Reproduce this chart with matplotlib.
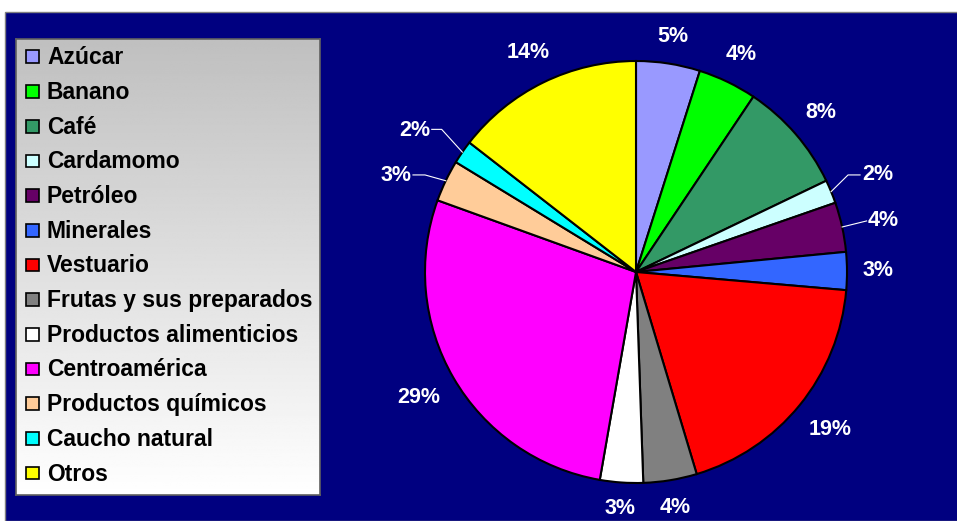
import numpy as np
import matplotlib.pyplot as plt
from matplotlib.patches import Rectangle

categories = ['Azúcar', 'Banano', 'Café', 'Cardamomo', 'Petróleo', 'Minerales',
              'Vestuario', 'Frutas y sus preparados', 'Productos alimenticios',
              'Centroamérica', 'Productos químicos', 'Caucho natural', 'Otros']
# slice shares (%)
shares = [4.9, 4.5, 8.5, 1.8, 3.8, 2.9, 19.0, 4.1, 3.3, 27.8, 3.2, 1.8, 14.5]
pct_labels = ['5%', '4%', '8%', '2%', '4%', '3%', '19%', '4%', '3%', '29%', '3%', '2%', '14%']
colors = ['#9999FF', '#00FF00', '#339966', '#CCFFFF', '#660066', '#3366FF',
          '#FF0000', '#808080', '#FFFFFF', '#FF00FF', '#FFCC99', '#00FFFF', '#FFFF00']

W, H = 957, 521
FONT = 'Liberation Sans'

fig = plt.figure(figsize=(W / 100, H / 100), dpi=100)
fig.patch.set_facecolor('white')
fig.add_artist(Rectangle((5 / W, 0), 1, (H - 12) / H, transform=fig.transFigure,
                         facecolor='#000080', edgecolor='#808080', lw=1, zorder=0))

# pie: centre (636, 272) px, radius 211 px
cx, cy, R = 636, 272, 211
ax = fig.add_axes([(cx - R) / W, (H - cy - R) / H, 2 * R / W, 2 * R / H])
wedges, _ = ax.pie(shares, colors=colors, startangle=90, counterclock=False,
                   radius=1, wedgeprops=dict(edgecolor='black', linewidth=1.5))
ax.set_xlim(-1, 1)
ax.set_ylim(-1, 1)
ax.axis('off')

# small slices get leader lines: index -> (elbow, line end, text anchor, ha)
callouts = {
    3: ((1.005, 0.46), (1.062, 0.46), (1.07, 0.46), 'left'),
    4: ((1.093, 0.242), (1.093, 0.242), (1.10, 0.245), 'left'),
    10: ((-1.0, 0.46), (-1.057, 0.46), (-1.065, 0.455), 'right'),
    11: ((-0.921, 0.676), (-0.968, 0.676), (-0.975, 0.672), 'right'),
}

lbl_kw = dict(color='white', fontsize=15.5, fontweight='bold', family=FONT, clip_on=False)
for i, w in enumerate(wedges):
    mid = np.deg2rad((w.theta1 + w.theta2) / 2)
    ex, ey = np.cos(mid), np.sin(mid)
    if i in callouts:
        elbow, end, tpos, ha = callouts[i]
        ax.plot([ex, elbow[0], end[0]], [ey, elbow[1], end[1]],
                color='white', lw=0.8, clip_on=False)
        ax.text(tpos[0], tpos[1], pct_labels[i], ha=ha, va='center', **lbl_kw)
    else:
        # label box kept at a fixed gap outside the rim
        half_w = 7.2 * len(pct_labels[i])
        half_h = 8
        d = (228 + abs(ex) * half_w + abs(ey) * half_h) / R
        ax.text(ex * d, ey * d, pct_labels[i], ha='center', va='center', **lbl_kw)

# legend box drawn by hand, gradient grey -> white
lx0, ly0, lx1, ly1 = 16, 39, 320, 495
lax = fig.add_axes([lx0 / W, (H - ly1) / H, (lx1 - lx0) / W, (ly1 - ly0) / H])
lw_, lh_ = lx1 - lx0, ly1 - ly0
grad = np.linspace(0.75, 1.0, 256).reshape(-1, 1)
lax.imshow(grad, cmap='gray', vmin=0, vmax=1, aspect='auto',
           extent=[0, lw_, lh_, 0], interpolation='bilinear')
lax.set_xlim(0, lw_)
lax.set_ylim(lh_, 0)
lax.set_xticks([])
lax.set_yticks([])
for s in lax.spines.values():
    s.set_color('#606060')
    s.set_linewidth(1.2)

row0, step = 56.7 - ly0, 34.7
for i, (name, c) in enumerate(zip(categories, colors)):
    y = row0 + i * step
    lax.add_patch(Rectangle((26 - lx0, y - 6.3), 12.7, 12.7, facecolor=c,
                            edgecolor='black', lw=1.2))
    lax.text(47 - lx0, y + 1, name, ha='left', va='center', color='black',
             fontsize=16.5, fontweight='bold', family=FONT)

fig.savefig('out.png', dpi=100)
